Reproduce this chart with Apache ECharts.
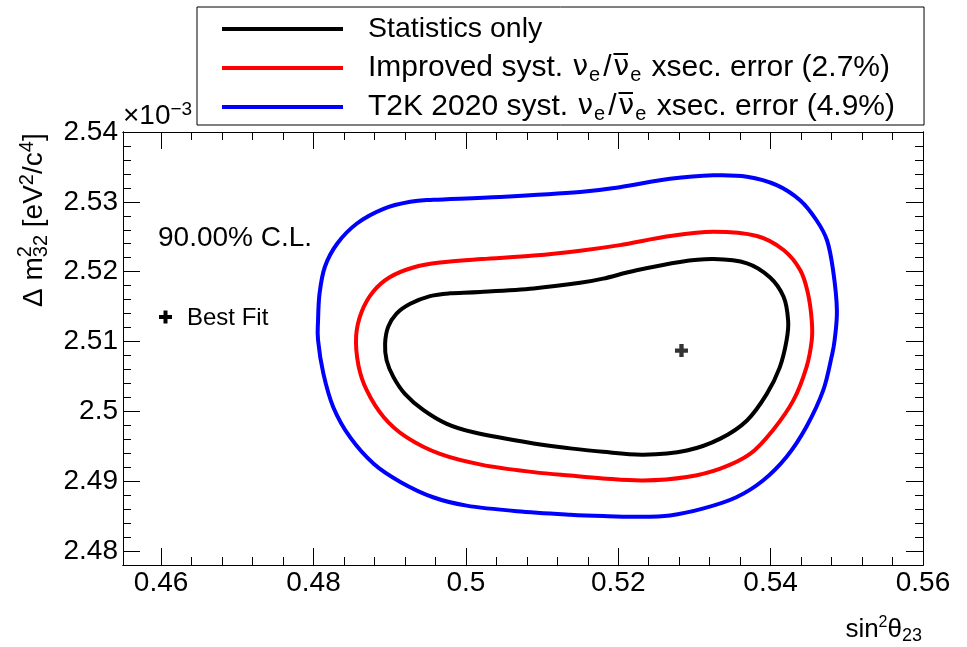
<!DOCTYPE html>
<html>
<head>
<meta charset="utf-8">
<script src="https://cdn.jsdelivr.net/npm/echarts@6/dist/echarts.min.js"></script>
<style>
html, body { margin: 0; padding: 0; background: #fff; }
#chart { width: 967px; height: 647px; }
</style>
</head>
<body>
<div id="chart"></div>
<script>
// contour points: [sin^2 theta23, dm2_32 (x1e-3 eV^2)]
const statsOnly = [[0.5150,2.5184],[0.5089,2.5176],[0.5019,2.5171],[0.4979,2.5169],[0.4953,2.5165],[0.4927,2.5154],[0.4909,2.5140],[0.4898,2.5121],[0.4894,2.5097],[0.4896,2.5073],[0.4905,2.5049],[0.4920,2.5025],[0.4944,2.5002],[0.4975,2.4982],[0.5010,2.4970],[0.5089,2.4954],[0.5137,2.4947],[0.5180,2.4942],[0.5233,2.4938],[0.5290,2.4944],[0.5334,2.4961],[0.5369,2.4987],[0.5395,2.5025],[0.5412,2.5063],[0.5421,2.5102],[0.5423,2.5130],[0.5417,2.5164],[0.5399,2.5192],[0.5369,2.5212],[0.5325,2.5218],[0.5281,2.5214],[0.5224,2.5202],[0.5180,2.5190]];
const improvedSyst = [[0.5150,2.5230],[0.5089,2.5223],[0.5021,2.5218],[0.4966,2.5213],[0.4931,2.5206],[0.4900,2.5192],[0.4878,2.5171],[0.4863,2.5142],[0.4856,2.5108],[0.4859,2.5066],[0.4870,2.5030],[0.4892,2.4992],[0.4922,2.4963],[0.4966,2.4939],[0.5023,2.4923],[0.5089,2.4913],[0.5137,2.4908],[0.5180,2.4904],[0.5233,2.4901],[0.5290,2.4906],[0.5334,2.4918],[0.5373,2.4939],[0.5403,2.4973],[0.5430,2.5016],[0.5447,2.5063],[0.5454,2.5102],[0.5454,2.5130],[0.5449,2.5169],[0.5439,2.5202],[0.5417,2.5231],[0.5382,2.5251],[0.5325,2.5257],[0.5268,2.5251],[0.5202,2.5238]];
const t2k2020Syst = [[0.5150,2.5314],[0.5045,2.5307],[0.4957,2.5303],[0.4927,2.5300],[0.4892,2.5290],[0.4857,2.5269],[0.4831,2.5240],[0.4815,2.5207],[0.4808,2.5169],[0.4806,2.5130],[0.4806,2.5102],[0.4813,2.5054],[0.4826,2.5006],[0.4848,2.4963],[0.4879,2.4925],[0.4914,2.4899],[0.4957,2.4877],[0.5001,2.4865],[0.5067,2.4857],[0.5137,2.4852],[0.5180,2.4850],[0.5224,2.4849],[0.5268,2.4851],[0.5312,2.4861],[0.5355,2.4877],[0.5390,2.4901],[0.5421,2.4935],[0.5447,2.4978],[0.5469,2.5030],[0.5480,2.5078],[0.5484,2.5102],[0.5487,2.5145],[0.5482,2.5202],[0.5474,2.5245],[0.5460,2.5274],[0.5439,2.5302],[0.5408,2.5324],[0.5369,2.5336],[0.5325,2.5338],[0.5268,2.5333],[0.5202,2.5321]];
const bestFit = [0.5283, 2.5087];

const seriesNames = ['Statistics only', 'Improved syst. xsec. error (2.7%)', 'T2K 2020 syst. xsec. error (4.9%)'];
const legendText = [
    '{u|Statistics only}',
    '{t|Improved syst. }{n|ν}{s|e}{a|/}{n|ν\u0305}{s|e}{t| xsec. error (2.7%)}',
    '{t|T2K 2020 syst. }{n|ν}{s|e}{a|/}{n|ν\u0305}{s|e}{t| xsec. error (4.9%)}'
];
const seriesColors = ['#000000', '#ff0000', '#0000ff'];

const xMin = 0.455, xMax = 0.56;
const yMin = 2.478, yMax = 2.54;
const xMajor = [0.46, 0.48, 0.5, 0.52, 0.54, 0.56];
const xMinor = [0.46,0.464,0.468,0.472,0.476,0.48,0.484,0.488,0.492,0.496,0.5,0.504,0.508,0.512,0.516,0.52,0.524,0.528,0.532,0.536,0.54,0.544,0.548,0.552,0.556,0.56];
const yMajor = [2.48, 2.49, 2.5, 2.51, 2.52, 2.53, 2.54];
const yMinor = [2.48,2.482,2.484,2.486,2.488,2.49,2.492,2.494,2.496,2.498,2.5,2.502,2.504,2.506,2.508,2.51,2.512,2.514,2.516,2.518,2.52,2.522,2.524,2.526,2.528,2.53,2.532,2.534,2.536,2.538,2.54];

const FONT = 'Liberation Sans, Arial, Helvetica, sans-serif';

function makeAxis(type, pos, min, max, ticks, len, labels) {
    return {
        type: 'value', position: pos, min: min, max: max,
        axisLine: { show: true, onZero: false, lineStyle: { color: '#000', width: 1 } },
        axisTick: { show: true, inside: true, length: len, customValues: ticks, lineStyle: { color: '#000', width: 1 } },
        axisLabel: labels ? {
            show: true, customValues: labels, fontSize: 28, fontFamily: FONT, color: '#000',
            margin: type === 'x' ? 4 : 5
        } : { show: false },
        splitLine: { show: false }
    };
}

// closed smooth curve (Catmull-Rom) through the contour points, in pixel space
function closedCurve(c) {
    const n = c.length;
    let d = 'M' + c[0][0] + ' ' + c[0][1];
    for (let i = 0; i < n; i++) {
        const p0 = c[(i - 1 + n) % n], p1 = c[i], p2 = c[(i + 1) % n], p3 = c[(i + 2) % n];
        d += ' C' + (p1[0] + (p2[0] - p0[0]) / 6) + ' ' + (p1[1] + (p2[1] - p0[1]) / 6) + ' '
            + (p2[0] - (p3[0] - p1[0]) / 6) + ' ' + (p2[1] - (p3[1] - p1[1]) / 6) + ' '
            + p2[0] + ' ' + p2[1];
    }
    return d + ' Z';
}

function contourSeries(name, pts, color) {
    return {
        name: name, type: 'custom', coordinateSystem: 'cartesian2d',
        xAxisIndex: 0, yAxisIndex: 0,
        data: pts, encode: { x: 0, y: 1 },
        itemStyle: { color: color },
        silent: true, z: 5,
        renderItem: function (params, api) {
            if (params.dataIndex !== 0) return null;
            const c = pts.map(function (p) { return api.coord(p); });
            return {
                type: 'path',
                shape: { pathData: closedCurve(c) },
                style: { fill: null, stroke: color, lineWidth: 4 }
            };
        }
    };
}

// width of "Δ m" so the stacked superscript sits over the subscript
const ctx = document.createElement('canvas').getContext('2d');
ctx.font = '28px "Liberation Sans"';
const wDm = ctx.measureText('Δ m').width;

const txt = function (size, lh, va) {
    const o = { fontSize: size, fontFamily: FONT, fill: '#000', color: '#000' };
    if (lh) o.lineHeight = lh;
    if (va) o.verticalAlign = va;
    return o;
};

var chart = echarts.init(document.getElementById('chart'), null, { renderer: 'canvas' });
const contours = [statsOnly, improvedSyst, t2k2020Syst];

const option = {
    animation: false,
    backgroundColor: '#fff',
    grid: { left: 123, top: 132, width: 800, height: 433, outerBoundsMode: 'none' },
    xAxis: [
        makeAxis('x', 'bottom', xMin, xMax, xMajor, 17, xMajor),
        makeAxis('x', 'bottom', xMin, xMax, xMinor, 8, null),
        makeAxis('x', 'top', xMin, xMax, xMajor, 17, null),
        makeAxis('x', 'top', xMin, xMax, xMinor, 8, null)
    ],
    yAxis: [
        makeAxis('y', 'left', yMin, yMax, yMajor, 17, yMajor),
        makeAxis('y', 'left', yMin, yMax, yMinor, 8, null),
        makeAxis('y', 'right', yMin, yMax, yMajor, 17, null),
        makeAxis('y', 'right', yMin, yMax, yMinor, 8, null)
    ],
    legend: {
        data: seriesNames,
        orient: 'vertical',
        left: 197, top: 7,
        padding: [5, 29, 1, 25],
        itemGap: 5,
        icon: 'rect',
        itemWidth: 121, itemHeight: 4,
        backgroundColor: '#fff',
        borderColor: '#000', borderWidth: 1,
        selectedMode: false,
        formatter: function (name) { return legendText[seriesNames.indexOf(name)]; },
        textStyle: {
            fontSize: 28, fontFamily: FONT, color: '#000', lineHeight: 34,
            padding: [0, 0, 0, 20],
            rich: {
                u: { fontSize: 28.5, fontFamily: FONT, color: '#000', lineHeight: 34 },
                t: { fontSize: 30, fontFamily: FONT, color: '#000', lineHeight: 34 },
                a: { fontSize: 30, fontFamily: FONT, color: '#000', lineHeight: 34, padding: [0, 1, 0, 1] },
                n: { fontSize: 28, fontFamily: 'DejaVu Sans', color: '#000', lineHeight: 34, padding: [0, 0, 0, 1] },
                s: { fontSize: 20, fontFamily: FONT, color: '#000', verticalAlign: 'bottom', lineHeight: 10, padding: [0, 2, 0, 1] }
            }
        }
    },
    series: contours.map(function (pts, i) {
        return contourSeries(seriesNames[i], pts, seriesColors[i]);
    }).concat([{
        name: 'Best Fit', type: 'scatter', data: [bestFit],
        xAxisIndex: 0, yAxisIndex: 0,
        symbol: 'path://M4 0H8V4H12V8H8V12H4V8H0V4H4Z', symbolSize: 13,
        itemStyle: { color: '#000' }, z: 10
    }]),
    graphic: [
        { type: 'text', x: 123, y: 116, style: {
            text: '{m|×10}{p|−3}', verticalAlign: 'middle',
            rich: { m: txt(28, 32), p: txt(19, 12, 'top') } } },
        { type: 'text', x: 158, y: 238, style: Object.assign(txt(28), { text: '90.00% C.L.', verticalAlign: 'middle' }) },
        { type: 'rect', shape: { x: 159, y: 315, width: 13, height: 4 }, style: { fill: '#000' } },
        { type: 'rect', shape: { x: 163.5, y: 310.5, width: 4, height: 13 }, style: { fill: '#000' } },
        { type: 'text', x: 187, y: 318, style: Object.assign(txt(24), { text: 'Best Fit', verticalAlign: 'middle' }) },
        // y title, read bottom to top
        { type: 'text', x: 34, y: 307, rotation: Math.PI / 2, style: {
            text: '{m|Δ m}{b|32}{m| [eV}{p|2}{m|/c}{p|4}{m|]}',
            align: 'left', verticalAlign: 'middle',
            rich: { m: txt(28, 34), p: txt(20, 10, 'top'), b: txt(20, 10, 'bottom') } } },
        { type: 'text', x: 25, y: 307 - wDm, rotation: Math.PI / 2, style: Object.assign(txt(20), {
            text: '2', align: 'left', verticalAlign: 'middle' }) },
        // x title
        { type: 'text', x: 922, y: 630, style: {
            text: '{m|sin}{p|2}{m|θ}{b|23}',
            align: 'right', verticalAlign: 'middle',
            rich: { m: txt(26, 30), p: txt(16, 10, 'top'), b: txt(18, 8, 'bottom') } } }
    ]
};
chart.setOption(option);
window.addEventListener('resize', function () { chart.resize(); });
</script>
</body>
</html>
